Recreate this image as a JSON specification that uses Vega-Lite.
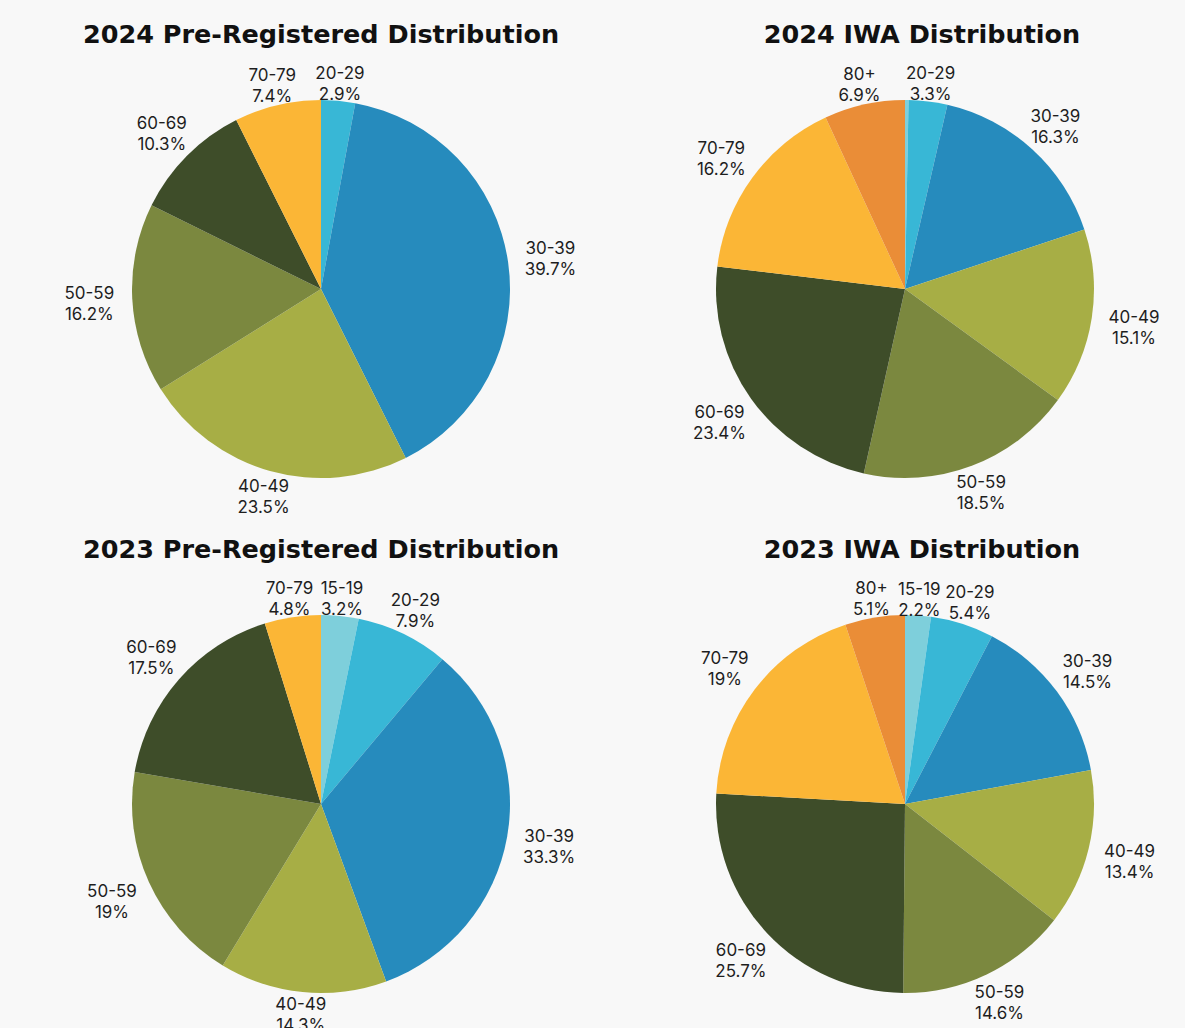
{
  "$schema": "https://vega.github.io/schema/vega-lite/v6.json",
  "background": "#f8f8f8",
  "padding": {"left": 41, "top": 22, "right": 0, "bottom": 0},
  "spacing": 20,
  "config": {
    "view": {"stroke": null},
    "title": {"font": "DejaVu Sans", "fontSize": 25.5, "fontWeight": "bold", "color": "#111111", "anchor": "middle", "baseline": "bottom", "offset": 17},
    "text": {"font": "Inter", "fontSize": 17, "lineHeight": 21, "lineBreak": "\n", "dy": -7}
  },
  "datasets": {
    "pre2024": [
      {"age": "20-29", "pct": 2.9},
      {"age": "30-39", "pct": 39.7},
      {"age": "40-49", "pct": 23.5},
      {"age": "50-59", "pct": 16.2},
      {"age": "60-69", "pct": 10.3},
      {"age": "70-79", "pct": 7.4}
    ],
    "iwa2024": [
      {"age": "15-19", "pct": 0.3},
      {"age": "20-29", "pct": 3.3},
      {"age": "30-39", "pct": 16.3},
      {"age": "40-49", "pct": 15.1},
      {"age": "50-59", "pct": 18.5},
      {"age": "60-69", "pct": 23.4},
      {"age": "70-79", "pct": 16.2},
      {"age": "80+", "pct": 6.9}
    ],
    "pre2023": [
      {"age": "15-19", "pct": 3.2},
      {"age": "20-29", "pct": 7.9},
      {"age": "30-39", "pct": 33.3},
      {"age": "40-49", "pct": 14.3},
      {"age": "50-59", "pct": 19},
      {"age": "60-69", "pct": 17.5},
      {"age": "70-79", "pct": 4.8}
    ],
    "iwa2023": [
      {"age": "15-19", "pct": 2.2},
      {"age": "20-29", "pct": 5.4},
      {"age": "30-39", "pct": 14.5},
      {"age": "40-49", "pct": 13.4},
      {"age": "50-59", "pct": 14.6},
      {"age": "60-69", "pct": 25.7},
      {"age": "70-79", "pct": 19},
      {"age": "80+", "pct": 5.1}
    ]
  },
  "vconcat": [
    {
      "spacing": 24,
      "bounds": "flush",
      "hconcat": [
        {
          "width": 560, "height": 440,
          "title": {"text": "2024 Pre-Registered Distribution"},
          "data": {"name": "pre2024"},
          "transform": [{"calculate": "datum.pct < 1 ? '' : datum.age + '\\n' + datum.pct + '%'", "as": "label"}],
          "encoding": {
            "theta": {"field": "pct", "type": "quantitative", "stack": true},
            "color": {"field": "age", "type": "nominal", "legend": null,
              "scale": {"domain": ["15-19","20-29","30-39","40-49","50-59","60-69","70-79","80+"],
                        "range": ["#7ecfdb","#38b7d6","#268bbd","#a7ae45","#7b883f","#3e4d29","#fbb636","#ea8d37"]}}
          },
          "layer": [
            {"mark": {"type": "arc", "radius": 189}},
            {"mark": {"type": "text", "radius": {"expr": "206 + 26*abs(sin(PI*(datum.pct_start+datum.pct_end)/100))"}},
             "encoding": {"text": {"field": "label"}, "detail": {"field": "age"}, "color": {"value": "#1e1e1e"}}}
          ]
        },
        {
          "width": 560, "height": 440,
          "title": {"text": "2024 IWA Distribution", "dx": 17},
          "data": {"name": "iwa2024"},
          "transform": [{"calculate": "datum.pct < 1 ? '' : datum.age + '\\n' + datum.pct + '%'", "as": "label"}],
          "encoding": {
            "theta": {"field": "pct", "type": "quantitative", "stack": true},
            "color": {"field": "age", "type": "nominal", "legend": null,
              "scale": {"domain": ["15-19","20-29","30-39","40-49","50-59","60-69","70-79","80+"],
                        "range": ["#7ecfdb","#38b7d6","#268bbd","#a7ae45","#7b883f","#3e4d29","#fbb636","#ea8d37"]}}
          },
          "layer": [
            {"mark": {"type": "arc", "radius": 189}},
            {"mark": {"type": "text", "radius": {"expr": "206 + 26*abs(sin(PI*(datum.pct_start+datum.pct_end)/100))"}},
             "encoding": {"text": {"field": "label"}, "detail": {"field": "age"}, "color": {"value": "#1e1e1e"}}}
          ]
        }
      ]
    },
    {
      "spacing": 24,
      "bounds": "flush",
      "hconcat": [
        {
          "width": 560, "height": 440,
          "title": {"text": "2023 Pre-Registered Distribution"},
          "data": {"name": "pre2023"},
          "transform": [{"calculate": "datum.pct < 1 ? '' : datum.age + '\\n' + datum.pct + '%'", "as": "label"}],
          "encoding": {
            "theta": {"field": "pct", "type": "quantitative", "stack": true},
            "color": {"field": "age", "type": "nominal", "legend": null,
              "scale": {"domain": ["15-19","20-29","30-39","40-49","50-59","60-69","70-79","80+"],
                        "range": ["#7ecfdb","#38b7d6","#268bbd","#a7ae45","#7b883f","#3e4d29","#fbb636","#ea8d37"]}}
          },
          "layer": [
            {"mark": {"type": "arc", "radius": 189}},
            {"mark": {"type": "text", "radius": {"expr": "206 + 26*abs(sin(PI*(datum.pct_start+datum.pct_end)/100))"}},
             "encoding": {"text": {"field": "label"}, "detail": {"field": "age"}, "color": {"value": "#1e1e1e"}}}
          ]
        },
        {
          "width": 560, "height": 440,
          "title": {"text": "2023 IWA Distribution", "dx": 17},
          "data": {"name": "iwa2023"},
          "transform": [{"calculate": "datum.pct < 1 ? '' : datum.age + '\\n' + datum.pct + '%'", "as": "label"}],
          "encoding": {
            "theta": {"field": "pct", "type": "quantitative", "stack": true},
            "color": {"field": "age", "type": "nominal", "legend": null,
              "scale": {"domain": ["15-19","20-29","30-39","40-49","50-59","60-69","70-79","80+"],
                        "range": ["#7ecfdb","#38b7d6","#268bbd","#a7ae45","#7b883f","#3e4d29","#fbb636","#ea8d37"]}}
          },
          "layer": [
            {"mark": {"type": "arc", "radius": 189}},
            {"mark": {"type": "text", "radius": {"expr": "206 + 26*abs(sin(PI*(datum.pct_start+datum.pct_end)/100))"}},
             "encoding": {"text": {"field": "label"}, "detail": {"field": "age"}, "color": {"value": "#1e1e1e"}}}
          ]
        }
      ]
    }
  ]
}
